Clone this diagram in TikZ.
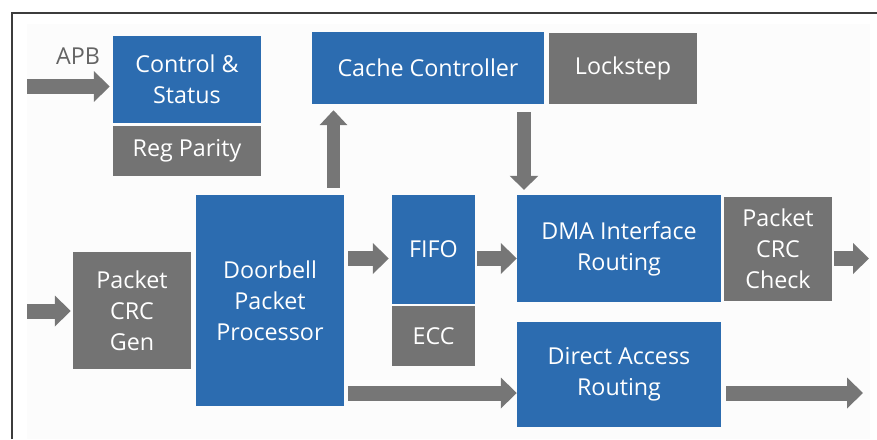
\documentclass[tikz,border=0pt]{standalone}
\usepackage{fontspec}
\setmainfont{Open Sans}
\usetikzlibrary{arrows.meta}
\definecolor{boxblue}{RGB}{44,108,176}
\definecolor{boxgray}{RGB}{115,115,115}
\definecolor{arrgray}{RGB}{118,118,118}
\definecolor{txtgray}{RGB}{100,100,100}
\definecolor{framecol}{RGB}{60,60,60}
\definecolor{bgfaint}{RGB}{252,252,252}
\begin{document}
\begin{tikzpicture}[x=1pt,y=-1pt,
  txt/.style={font=\fontsize{23.3}{31}\selectfont},
  blk/.style={txt,text=white,align=center,inner sep=0pt,draw=none},
  bluebox/.style={blk,fill=boxblue},
  graybox/.style={blk,fill=boxgray},
  fat/.style={draw=arrgray,line width=15pt,line cap=butt,-{Triangle[length=16pt,width=30pt]}}]
\useasboundingbox (0,0) rectangle (877,439);
\fill[white] (0,0) rectangle (877,439);
\fill[bgfaint] (27,24) rectangle (870,439);
\draw[framecol,line width=1.5pt] (12,439) -- (12,13) -- (877,13);
% boxes
\node[bluebox,minimum width=148pt,minimum height=87pt] (ctrl) at (187,79.5) {Control \&\\Status};
\node[graybox,minimum width=148pt,minimum height=50pt] (regpar) at (187,151) {Reg Parity};
\node[bluebox,minimum width=232pt,minimum height=72pt] (cache) at (428,68) {Cache Controller};
\node[graybox,minimum width=148pt,minimum height=71pt] (lock) at (623,68.5) {Lockstep};
\node[graybox,minimum width=118pt,minimum height=117pt] (crcgen) at (132,310.5) {Packet\\CRC\\Gen};
\node[bluebox,minimum width=148pt,minimum height=211pt] (door) at (270,300.5) {Doorbell\\Packet\\Processor};
\node[bluebox,minimum width=83pt,minimum height=109pt] (fifo) at (433.5,249.5) {FIFO};
\node[graybox,minimum width=83pt,minimum height=60pt] (ecc) at (433.5,336) {ECC};
\node[bluebox,minimum width=204pt,minimum height=107pt] (dma) at (619,248.5) {DMA Interface\\Routing};
\node[graybox,minimum width=108pt,minimum height=104pt] (check) at (778,249) {Packet\\CRC\\Check};
\node[bluebox,minimum width=204pt,minimum height=105pt] (direct) at (619,374.5) {Direct Access\\Routing};
\node[txt,text=txtgray,inner sep=0pt] (apb) at (78,56) {APB};
% helper coordinates
\coordinate (apbin) at (27,86.5);
\coordinate (pin) at (27,311);
\coordinate (yA) at (0,258.5);
\coordinate (yB) at (0,393);
\coordinate (xUp) at (333.5,0);
\coordinate (xDn) at (524,0);
\coordinate (outA) at (869,258.5);
\coordinate (outB) at (863,393);
% connectors
\draw[fat,shorten >=3pt] (apbin) -- (apbin -| ctrl.west);
\draw[fat,shorten >=2pt] (pin) -- (pin -| crcgen.west);
\draw[fat,shorten <=4pt,shorten >=3pt] (door.east |- yA) -- (fifo.west |- yA);
\draw[fat,shorten <=2pt] (fifo.east |- yA) -- (dma.west |- yA);
\draw[fat,shorten <=2pt] (check.east |- yA) -- (outA);
\draw[fat,shorten <=4pt] (door.east |- yB) -- (direct.west |- yB);
\draw[fat,shorten <=5pt] (direct.east |- yB) -- (outB);
\draw[fat,line width=13pt,-{Triangle[length=15pt,width=27pt]},shorten <=7pt,shorten >=6pt] (xUp |- door.north) -- (xUp |- cache.south);
\draw[fat,line width=14pt,-{Triangle[length=14pt,width=28pt]},shorten <=8pt,shorten >=5pt] (xDn |- cache.south) -- (xDn |- dma.north);
\end{tikzpicture}
\end{document}
